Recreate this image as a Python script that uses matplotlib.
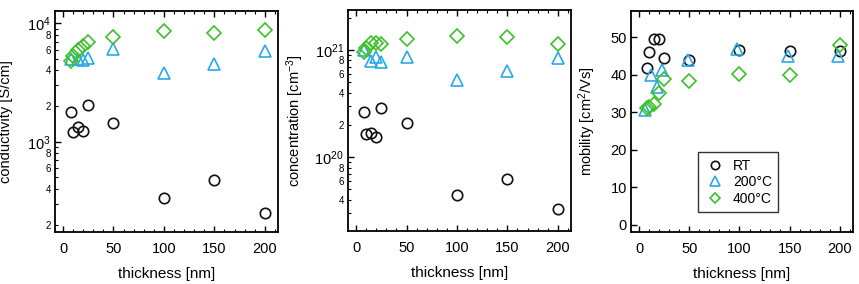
import matplotlib
matplotlib.use("Agg")
import matplotlib.pyplot as plt
from matplotlib.ticker import LogLocator, FuncFormatter, MultipleLocator
import numpy as np

plt.rcParams['font.family'] = ['Liberation Sans', 'DejaVu Sans']
plt.rcParams['mathtext.fontset'] = 'custom'
plt.rcParams['mathtext.rm'] = 'Liberation Sans'
plt.rcParams['mathtext.it'] = 'Liberation Sans:italic'
plt.rcParams['mathtext.bf'] = 'Liberation Sans:bold'

# ---------------- data ----------------
thick_rt = [8, 10, 15, 20, 25, 50, 100, 150, 200]
thick_200 = [8, 15, 20, 25, 50, 100, 150, 200]
thick_400 = [8, 10, 15, 20, 25, 50, 100, 150, 200]
thick_200_mob = [5.5, 11.5, 17.5, 22.5, 48.5, 98, 148, 198.5]

cond_rt = [1770, 1200, 1340, 1240, 2030, 1450, 334, 472, 248]
cond_200 = [5000, 5000, 4900, 5100, 6040, 3790, 4510, 5870]
cond_400 = [4850, 5300, 5900, 6400, 6950, 7730, 8670, 8340, 8790]

conc_rt = [2.66e20, 1.65e20, 1.69e20, 1.56e20, 2.86e20, 2.07e20, 4.46e19, 6.33e19, 3.3e19]
conc_200 = [1.01e21, 7.9e20, 8.66e20, 7.8e20, 8.66e20, 5.25e20, 6.37e20, 8.37e20]
conc_400 = [9.6e20, 1.05e21, 1.16e21, 1.17e21, 1.14e21, 1.26e21, 1.36e21, 1.31e21, 1.14e21]

mob_rt = [41.7, 46.0, 49.5, 49.5, 44.5, 44.0, 46.7, 46.3, 46.2]
mob_200 = [30.5, 40.0, 36.7, 41.3, 43.8, 46.8, 44.9, 44.9]
mob_400 = [31.0, 31.3, 32.2, 35.0, 38.9, 38.3, 40.3, 39.9, 48.0]

labels = ["RT", "200°C", "400°C"]
xticks = [0, 50, 100, 150, 200]

c_rt = "#111111"
c_200 = "#2aa9e8"
c_400 = "#3cc12a"

fig = plt.figure(figsize=(8.59, 2.84), dpi=100)
ax1 = fig.add_axes([0.064, 0.1831, 0.2596, 0.778])
ax2 = fig.add_axes([0.4051, 0.1866, 0.2596, 0.778])
ax3 = fig.add_axes([0.7346, 0.1831, 0.2584, 0.778])

mkw = dict(linestyle='none', markerfacecolor='none', markeredgewidth=1.2)

def plot3(ax, y_rt, y_200, y_400, x200):
    ax.plot(thick_rt, y_rt, marker='o', markersize=7.5, markeredgecolor=c_rt, label=labels[0], **mkw)
    ax.plot(x200, y_200, marker='^', markersize=8.5, markeredgecolor=c_200, label=labels[1], **mkw)
    ax.plot(thick_400, y_400, marker='D', markersize=7.0, markeredgecolor=c_400, label=labels[2], **mkw)

plot3(ax1, cond_rt, cond_200, cond_400, thick_200)
plot3(ax2, conc_rt, conc_200, conc_400, thick_200)
plot3(ax3, mob_rt, mob_200, mob_400, thick_200_mob)

def log_fmt(hi_lab):
    def f(v, pos):
        e = np.floor(np.log10(v) + 1e-9)
        m = v / 10**e
        if abs(m - 1) < 1e-6:
            return r"$\mathregular{10^{%d}}$" % int(e)
        mi = int(round(m))
        if mi in (2, 4, 6, 8) and v <= hi_lab:
            return str(mi)
        return ""
    return f

for ax in (ax1, ax2, ax3):
    ax.set_xlim(-8, 213)
    ax.set_xticks(xticks)
    ax.xaxis.set_minor_locator(MultipleLocator(10))
    ax.set_xlabel("thickness [nm]", fontsize=11, labelpad=8)
    for s in ax.spines.values():
        s.set_linewidth(1.3)
    ax.tick_params(axis='x', which='both', direction='in', top=True, bottom=True)
    ax.tick_params(axis='y', which='both', direction='in', left=True, right=False)
    ax.tick_params(axis='both', which='major', length=4, width=1.0, labelsize=10.5)
    ax.tick_params(axis='both', which='minor', length=2.5, width=0.8, labelsize=7)
    ax.tick_params(axis='x', which='major', pad=7)
    ax.tick_params(axis='y', which='both', pad=3)

ax1.set_yscale('log')
ax1.set_ylim(173, 12700)
ax1.yaxis.set_major_locator(LogLocator(base=10, numticks=10))
ax1.yaxis.set_minor_locator(LogLocator(base=10, subs=np.arange(2, 10), numticks=20))
ax1.yaxis.set_major_formatter(FuncFormatter(log_fmt(1e30)))
ax1.yaxis.set_minor_formatter(FuncFormatter(log_fmt(1e30)))
ax1.set_ylabel("conductivity [S/cm]", fontsize=10.5)
ax1.yaxis.set_label_coords(-0.19, 0.5)

ax2.set_yscale('log')
ax2.set_ylim(2.05e19, 2.36e21)
ax2.yaxis.set_major_locator(LogLocator(base=10, numticks=10))
ax2.yaxis.set_minor_locator(LogLocator(base=10, subs=np.arange(2, 10), numticks=20))
ax2.yaxis.set_major_formatter(FuncFormatter(log_fmt(9e20)))
ax2.yaxis.set_minor_formatter(FuncFormatter(log_fmt(9e20)))
ax2.set_ylabel(r"concentration [cm$^{\mathregular{-3}}$]", fontsize=10.5)
ax2.yaxis.set_label_coords(-0.19, 0.5)

ax3.set_ylim(-2, 57)
ax3.yaxis.set_major_locator(MultipleLocator(10))
ax3.set_ylabel(r"mobility [cm$^{\mathregular{2}}$/Vs]", fontsize=10.5)
ax3.yaxis.set_label_coords(-0.148, 0.5)

leg = ax3.legend(loc='lower left', bbox_to_anchor=(0.30, 0.089), fontsize=10, frameon=True,
                 fancybox=False, edgecolor='black', handletextpad=0.5, borderpad=0.45,
                 labelspacing=0.2, handlelength=1.6, markerscale=0.8, borderaxespad=0)
leg.get_frame().set_linewidth(1.0)

fig.savefig("out.png", dpi=100)
